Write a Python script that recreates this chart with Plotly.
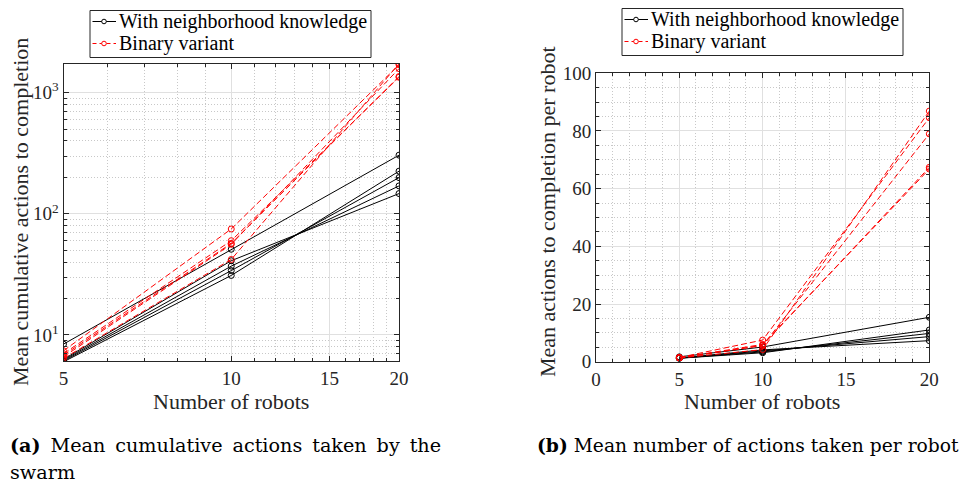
import plotly.graph_objects as go

robots = [5, 10, 20]

# mean cumulative actions (swarm), one list per run
cum_neigh = [
    [8.4, 51, 305],
    [6.3, 41, 147],
    [6.2, 37, 170],
    [6.1, 34, 199],
    [6.0, 31, 225],
]
cum_binary = [
    [7.4, 75, 1700],
    [7.0, 60, 1340],
    [6.8, 57, 1360],
    [6.6, 56, 1580],
    [6.4, 42, 1735],
]

# mean actions per robot
per_neigh = [
    [1.68, 5.1, 15.4],
    [1.26, 4.1, 7.3],
    [1.24, 3.7, 8.7],
    [1.22, 3.4, 9.8],
    [1.20, 3.1, 11.0],
]
per_binary = [
    [1.48, 7.5, 84.6],
    [1.40, 6.0, 66.8],
    [1.36, 5.7, 67.4],
    [1.32, 5.6, 79.0],
    [1.28, 4.2, 86.9],
]

names = ["With neighborhood knowledge", "Binary variant"]
AX = "#262626"
GRID = "#e0e0e0"
MINOR = "#c8c8c8"
FONT = "Liberation Serif"
DASH = "6px,3px"

# the page body has an 8px margin, so the figure is a bit smaller than the window
OFF = 8
W, H = 972 - OFF, 483 - OFF


def px(x):
    return (x - OFF) / W


def py(y):
    return 1 - (y - OFF) / H


fig = go.Figure()


def add_group(data, color, dash, xa, ya):
    for ys in data:
        fig.add_trace(go.Scatter(
            x=robots, y=ys, mode="lines+markers", showlegend=False,
            xaxis=xa, yaxis=ya,
            line=dict(color=color, width=1, dash=dash),
            marker=dict(symbol="circle-open", size=6, color=color,
                        line=dict(width=1, color=color)),
        ))


add_group(cum_neigh, "black", "solid", "x", "y")
add_group(cum_binary, "red", DASH, "x", "y")
add_group(per_neigh, "black", "solid", "x2", "y2")
add_group(per_binary, "red", DASH, "x2", "y2")

axis_common = dict(
    showline=True, linecolor=AX, linewidth=1, mirror="ticks",
    ticks="inside", ticklen=5, tickcolor=AX, automargin=False,
    showgrid=True, gridcolor=GRID, gridwidth=1, zeroline=False,
    tickfont=dict(family=FONT, size=19, color=AX),
)
minor_common = dict(ticks="inside", ticklen=3, tickcolor=AX,
                    showgrid=True, gridcolor=MINOR, griddash="1px,2px")

fig.update_layout(
    width=W, height=H,
    margin=dict(l=0, r=0, t=0, b=0, autoexpand=False),
    paper_bgcolor="white", plot_bgcolor="white",
    showlegend=False,
    xaxis=dict(
        domain=[px(63.5), px(399)], type="log", range=[0.699, 1.301],
        tickvals=[5, 10, 15, 20], ticktext=["5", "10", "15", "20"],
        minor=dict(tickvals=[6, 7, 8, 9, 11, 12, 13, 14, 16, 17, 18, 19], **minor_common),
        anchor="y", **axis_common),
    yaxis=dict(
        domain=[py(361), py(64)], type="log", range=[0.785, 3.237],
        tickvals=[10, 100, 1000],
        ticktext=["10<sup>1</sup>", "10<sup>2</sup>", "10<sup>3</sup>"],
        minor=dict(tickvals=[6, 7, 8, 9, 20, 30, 40, 50, 60, 70, 80, 90,
                             200, 300, 400, 500, 600, 700, 800, 900], **minor_common),
        anchor="x", **axis_common),
    xaxis2=dict(
        domain=[px(596), px(929.3)], range=[0, 20], tickvals=[0, 5, 10, 15, 20],
        minor=dict(dtick=1, **minor_common),
        anchor="y2", **axis_common),
    yaxis2=dict(
        domain=[py(361.7), py(73.3)], range=[0, 100], tickvals=[0, 20, 40, 60, 80, 100],
        minor=dict(dtick=5, **minor_common),
        anchor="x2", **axis_common),
)

title_font = dict(family=FONT, size=22, color=AX)


def label(text, x, y, angle=0):
    fig.add_annotation(text=text, x=px(x), y=py(y), xref="paper", yref="paper",
                       xanchor="center", yanchor="middle", textangle=angle,
                       showarrow=False, font=title_font)


label("Number of robots", 231, 401)
label("Number of robots", 762, 401)
label("Mean cumulative actions to completion", 20, 212, -90)
label("Mean actions to completion per robot", 547, 212, -90)


# legend boxes drawn like the MATLAB ones (one per panel)
def legend_box(left, top):
    right, bottom = left + 281, top + 47
    fig.add_shape(type="rect", xref="paper", yref="paper",
                  x0=px(left), x1=px(right), y0=py(bottom), y1=py(top),
                  line=dict(color=AX, width=1), fillcolor="white", layer="above")
    rows = [(top + 11, "black", "solid", names[0]), (top + 33, "red", "4px,3px", names[1])]
    for yy, color, dash, text in rows:
        fig.add_shape(type="line", xref="paper", yref="paper",
                      x0=px(left + 2.5), x1=px(left + 26), y0=py(yy), y1=py(yy),
                      line=dict(color=color, width=1, dash=dash), layer="above")
        cx = left + 14
        fig.add_shape(type="circle", xref="paper", yref="paper",
                      x0=px(cx - 2.3), x1=px(cx + 2.3), y0=py(yy + 2.3), y1=py(yy - 2.3),
                      line=dict(color=color, width=1), fillcolor="white", layer="above")
        fig.add_annotation(text=text, x=px(left + 27), y=py(yy), xref="paper", yref="paper",
                           xanchor="left", yanchor="middle", showarrow=False,
                           font=dict(family=FONT, size=20, color="black"))


legend_box(90, 10.5)
legend_box(622, 8.5)


def caption(text, x, y, size):
    fig.add_annotation(text=text, x=px(x), y=py(y), xref="paper", yref="paper",
                       xanchor="left", yanchor="middle", showarrow=False,
                       font=dict(family="DejaVu Serif", size=size, color="black"))


sp = " \u2009"
caption(sp.join(["<b>(a)</b>", "Mean", "cumulative", "actions", "taken", "by", "the"]), 8, 445, 19.2)
caption("swarm", 8, 472, 19.2)
caption("<b>(b)</b> Mean number of actions taken per robot", 535, 445, 18.7)

fig.write_html("out.html")
